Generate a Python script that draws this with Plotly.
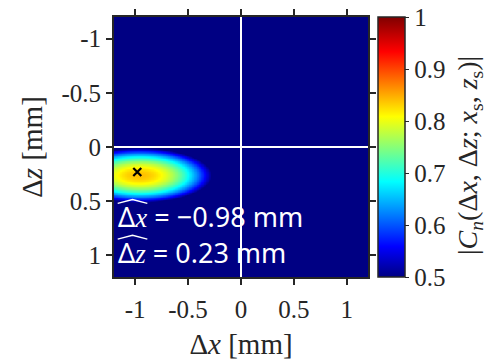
import numpy as np
import plotly.graph_objects as go

# Axis extents and tick positions (mm)
x_range = [-1.2, 1.2]
z_range = [-1.2, 1.2]
x_ticks = [-1, -0.5, 0, 0.5, 1]
x_ticktext = ["-1", "-0.5", "0", "0.5", "1"]
z_ticks = [-1, -0.5, 0, 0.5, 1]
z_ticktext = ["-1", "-0.5", "0", "0.5", "1"]
cb_ticks = [0.5, 0.6, 0.7, 0.8, 0.9, 1.0]
cb_ticktext = ["0.5", "0.6", "0.7", "0.8", "0.9", "1"]

# Estimated source location (mm)
dx_hat = -0.98
dz_hat = 0.23

# Correlation peak parameters
peak_value = 0.84
peak_dx = -0.96
peak_dz = 0.26
half_width_x = 0.68
half_width_z = 0.25
floor_value = 0.5

# Correlation surface on a regular grid
xs = np.linspace(x_range[0], x_range[1], 361)
zs = np.linspace(z_range[0], z_range[1], 361)
X, Z = np.meshgrid(xs, zs)
r2 = ((X - peak_dx) / half_width_x) ** 2 + ((Z - peak_dz) / half_width_z) ** 2
C = np.maximum(peak_value - (peak_value - floor_value) * r2, floor_value)

jet = [
    [0.0, "rgb(0,0,131)"],
    [0.117, "rgb(0,0,255)"],
    [0.367, "rgb(0,255,255)"],
    [0.617, "rgb(255,255,0)"],
    [0.867, "rgb(255,0,0)"],
    [1.0, "rgb(128,0,0)"],
]

serif = "Liberation Serif"
ink = "#262626"
fig = go.Figure()
fig.add_trace(go.Heatmap(
    x=xs, y=zs, z=C, zmin=0.5, zmax=1.0, colorscale=jet, zsmooth="best",
    colorbar=dict(
        x=1.039, xanchor="left", y=0.5, yanchor="middle", len=1.0, lenmode="fraction",
        thickness=27, outlinecolor=ink, outlinewidth=1.5, xpad=0, ypad=0,
        tickvals=cb_ticks, ticktext=cb_ticktext, ticks="outside", ticklen=4,
        tickcolor=ink, tickfont=dict(family=serif, size=25, color=ink),
    ),
    showscale=True, hoverinfo="skip",
))

# Colour bar label, set vertically to the right of the tick labels
fig.add_annotation(
    x=1.0 + (469 - 368) / 254, y=0.5 + (138 - 147) / 260, xref="paper", yref="paper",
    xanchor="center", yanchor="middle", textangle=-90, showarrow=False,
    text="|<i>C</i><sub><i>n</i></sub>(Δ<i>x</i>, Δ<i>z</i>; <i>x</i><sub>s</sub>, <i>z</i><sub>s</sub>)|",
    font=dict(family=serif, size=28, color=ink),
)

# Crosshair through the origin
fig.add_trace(go.Scatter(x=[0, 0], y=z_range, mode="lines",
                         line=dict(color="white", width=2), showlegend=False, hoverinfo="skip"))
fig.add_trace(go.Scatter(x=x_range, y=[0, 0], mode="lines",
                         line=dict(color="white", width=2), showlegend=False, hoverinfo="skip"))

# Estimated location marker
fig.add_trace(go.Scatter(x=[dx_hat], y=[dz_hat], mode="markers",
                         marker=dict(symbol="x-thin", size=8, line=dict(color="black", width=2.2)),
                         showlegend=False, hoverinfo="skip"))

label_font = dict(family="Noto Sans", size=27, color="white")
ix = '<span style="font-family:Liberation Serif"><i>x</i></span>'
iz = '<span style="font-family:Liberation Serif"><i>z</i></span>'
text_x0 = -1.185
line1_z = 0.645
line2_z = 0.975
fig.add_annotation(x=text_x0, y=line1_z, xref="x", yref="y", xanchor="left", yanchor="middle",
                   text=f"Δ{ix} = −{abs(dx_hat):.2f} mm", showarrow=False, font=label_font)
fig.add_annotation(x=text_x0, y=line2_z, xref="x", yref="y", xanchor="left", yanchor="middle",
                   text=f"Δ{iz} = {dz_hat:.2f} mm", showarrow=False, font=label_font)

# Wide hats over the estimated quantities
hat_w = 0.28
hat_h = 0.035
for zline in (line1_z, line2_z):
    top = zline - 0.16
    x0 = text_x0 + 0.02
    fig.add_shape(type="path", xref="x", yref="y",
                  path=f"M {x0} {top + hat_h} L {x0 + hat_w / 2} {top} L {x0 + hat_w} {top + hat_h}",
                  line=dict(color="white", width=1.3))

axis_common = dict(
    showgrid=False, zeroline=False, showline=True, linecolor=ink, linewidth=2,
    mirror="ticks", ticks="outside", ticklen=6, tickwidth=1.5, tickcolor=ink,
    tickfont=dict(family=serif, size=25, color=ink),
)
fig.update_xaxes(range=x_range, tickvals=x_ticks, ticktext=x_ticktext, ticklabelstandoff=3,
                 title=dict(text="Δ<i>x</i> [mm]", font=dict(family=serif, size=29, color=ink), standoff=12),
                 **axis_common)
fig.update_yaxes(range=z_range[::-1], tickvals=z_ticks, ticktext=z_ticktext,
                 title=dict(text="Δ<i>z</i> [mm]", font=dict(family=serif, size=29, color=ink), standoff=10),
                 **axis_common)

fig.update_layout(
    width=489, height=363, margin=dict(l=114, r=121, t=17, b=86, autoexpand=False),
    paper_bgcolor="white", plot_bgcolor="rgb(0,0,131)", showlegend=False,
)
fig.write_html("out.html")
